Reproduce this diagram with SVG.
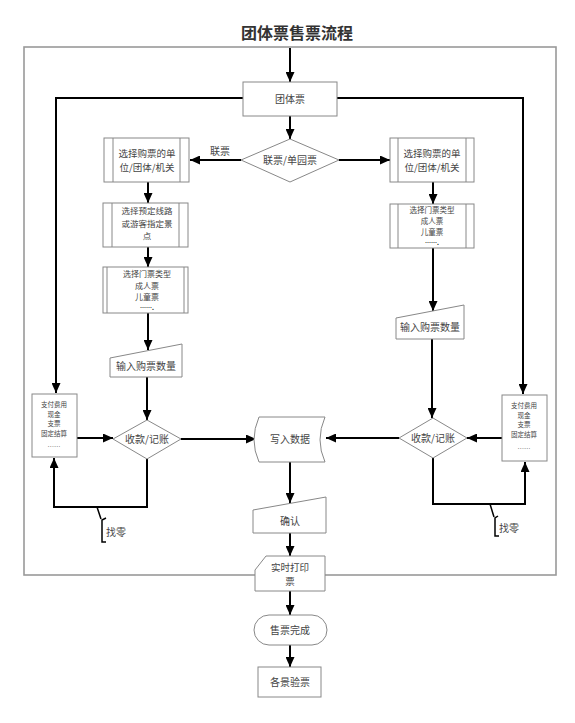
<svg xmlns="http://www.w3.org/2000/svg" width="575" height="723" viewBox="0 0 575 723">
<defs>
<marker id="ah" markerUnits="userSpaceOnUse" markerWidth="10" markerHeight="9" refX="10" refY="4.5" orient="auto">
<path d="M0,0 L10,4.5 L0,9 Z" fill="#000"/>
</marker>
<style>
.n{fill:#fff;stroke:#888;stroke-width:1}
.il{stroke:#888;stroke-width:1;fill:none}
.t{font-family:"Noto Sans CJK SC","Liberation Sans",sans-serif;font-size:10px;fill:#444;text-anchor:middle}
.t2{font-size:9.5px}
.m{font-size:8.5px}
.m8{font-size:8px}
.m7{font-size:7.5px}
.s{font-size:6.5px}
.d{font-size:6px;font-weight:bold;fill:#222}
.c{fill:none;stroke:#000;stroke-width:2;marker-end:url(#ah)}
.cb{fill:none;stroke:#000;stroke-width:1.5}
</style>
</defs>
<rect width="575" height="723" fill="#fff"/>
<text x="297" y="39" style="font-family:'Noto Sans CJK SC',sans-serif;font-size:16px;font-weight:bold;fill:#333;text-anchor:middle">团体票售票流程</text>
<rect x="24" y="47" width="532" height="528" fill="none" stroke="#999" stroke-width="1.6"/>

<g id="connectors">
<path class="c" d="M290,48 L290,82"/>
<path class="c" d="M290,116 L290,139"/>
<path class="c" d="M243,98 L56,98 L56,393"/>
<path class="c" d="M337,98 L523,98 L523,394"/>
<path class="c" d="M241,160 L190,160"/>
<text class="t" x="220" y="155">联票</text>
<path class="c" d="M339,160 L390,160"/>
<path class="c" d="M148,182 L148,203"/>
<path class="c" d="M148,247 L148,267"/>
<path class="c" d="M148,313 L148,350"/>
<path class="c" d="M147,377 L147,420"/>
<path class="c" d="M77,438 L113,438"/>
<path class="c" d="M147,459 L147,507 L54,507 L54,458"/>
<path class="c" d="M181,439 L256,439"/>
<path class="c" d="M433,182 L433,204"/>
<path class="c" d="M433,248 L433,311"/>
<path class="c" d="M432,339 L432,418"/>
<path class="c" d="M502,438 L467,438"/>
<path class="c" d="M399,438 L326,438"/>
<path class="c" d="M433,458 L433,504 L525,504 L525,462"/>
<path class="c" d="M290,462 L290,503"/>
<path class="c" d="M290,533 L290,556"/>
<path class="c" d="M290,591 L290,615"/>
<path class="c" d="M290,645 L290,667"/>
<path class="cb" d="M97,507 L101,519 M106,518 L102,520 L102,542 L106,542"/>
<text class="t" x="116" y="536">找零</text>
<path class="cb" d="M490,504 L494,517 M498,516 L495,518 L495,536 L499,536"/>
<text class="t" x="509" y="532">找零</text>
</g>

<g id="n-tuantipiao">
<rect class="n" x="243" y="82" width="94" height="34"/>
<text class="t" x="290" y="103">团体票</text>
</g>

<g id="n-lianpiao">
<path class="n" d="M241,160 L290,139 L339,160 L290,182 Z"/>
<text class="t" x="290" y="164">联票/单园票</text>
</g>

<g id="n-l-danwei">
<rect class="n" x="104" y="138" width="85" height="44"/>
<path class="il" d="M113,138 V182 M180,138 V182"/>
<text class="t t2"><tspan x="147" y="157">选择购票的单</tspan><tspan x="147" y="171">位/团体/机关</tspan></text>
</g>

<g id="n-l-xianlu">
<rect class="n" x="103" y="203" width="85" height="44"/>
<path class="il" d="M112,203 V247 M179,203 V247"/>
<text class="t m"><tspan x="147" y="214">选择预定线路</tspan><tspan x="147" y="226.5">或游客指定景</tspan><tspan x="147" y="239">点</tspan></text>
</g>

<g id="n-l-leixing">
<rect class="n" x="103" y="267" width="85" height="46"/>
<path class="il" d="M107,267 V313 M184,267 V313"/>
<text class="t m8"><tspan x="147" y="277">选择门票类型</tspan><tspan x="147" y="288.7">成人票</tspan><tspan x="147" y="300.4">儿童票</tspan><tspan class="d" x="147" y="310.3">…….</tspan></text>
</g>

<g id="n-l-shuliang">
<path class="n" d="M110,358 L182,344 L182,377 L110,377 Z"/>
<text class="t" x="146" y="370">输入购票数量</text>
</g>

<g id="n-l-zhifu">
<rect class="n" x="32" y="394" width="45" height="63"/>
<text class="t s"><tspan x="54" y="407">支付费用</tspan><tspan x="54" y="416.5">现金</tspan><tspan x="54" y="426">支票</tspan><tspan x="54" y="435.5">固定结算</tspan><tspan x="54" y="449">……</tspan></text>
</g>

<g id="n-l-shoukuan">
<path class="n" d="M113,439 L147,420 L181,439 L147,459 Z"/>
<text class="t" x="147" y="443">收款/记账</text>
</g>

<g id="n-r-danwei">
<rect class="n" x="390" y="138" width="84" height="44"/>
<path class="il" d="M398,138 V182 M466,138 V182"/>
<text class="t t2"><tspan x="432" y="157">选择购票的单</tspan><tspan x="432" y="171">位/团体/机关</tspan></text>
</g>

<g id="n-r-leixing">
<rect class="n" x="390" y="204" width="84" height="44"/>
<path class="il" d="M398,204 V248 M466,204 V248"/>
<text class="t m7"><tspan x="432" y="213">选择门票类型</tspan><tspan x="432" y="224">成人票</tspan><tspan x="432" y="235">儿童票</tspan><tspan class="d" x="432" y="244.5">…….</tspan></text>
</g>

<g id="n-r-shuliang">
<path class="n" d="M396,318 L464,305 L464,339 L396,339 Z"/>
<text class="t" x="430" y="331">输入购票数量</text>
</g>

<g id="n-r-shoukuan">
<path class="n" d="M399,438 L433,418 L467,438 L433,458 Z"/>
<text class="t" x="433" y="442">收款/记账</text>
</g>

<g id="n-r-zhifu">
<rect class="n" x="502" y="395" width="45" height="66"/>
<text class="t s"><tspan x="524" y="408">支付费用</tspan><tspan x="524" y="417.5">现金</tspan><tspan x="524" y="427">支票</tspan><tspan x="524" y="436.5">固定结算</tspan><tspan x="524" y="451">……</tspan></text>
</g>

<g id="n-xieru">
<path class="n" d="M259,417 L325,417 Q315,440 325,462 L259,462 Q249,440 259,417 Z"/>
<text class="t" x="290" y="443">写入数据</text>
</g>

<g id="n-queren">
<path class="n" d="M253,510 L326,497 L326,533 L253,533 Z"/>
<text class="t" x="290" y="525">确认</text>
</g>

<g id="n-dayin">
<path class="n" d="M266,556 L325,556 L325,591 L255,591 L255,570 Z"/>
<text class="t t2"><tspan x="290" y="571">实时打印</tspan><tspan x="290" y="585">票</tspan></text>
</g>

<g id="n-wancheng">
<rect class="n" x="254" y="615" width="73" height="30" rx="15"/>
<text class="t" x="290" y="634">售票完成</text>
</g>

<g id="n-yanpiao">
<rect class="n" x="258" y="667" width="63" height="30"/>
<text class="t" x="290" y="686">各景验票</text>
</g>
</svg>
